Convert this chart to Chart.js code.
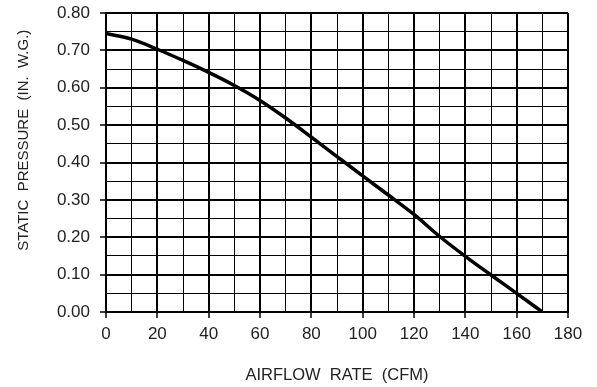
<!DOCTYPE html>
<html>
<head>
<meta charset="utf-8">
<script src="https://cdn.jsdelivr.net/npm/chart.js@4"></script>
<style>
  html, body { margin: 0; padding: 0; background: #fff; }
  #wrap { width: 597px; height: 387px; }
</style>
</head>
<body>
<div id="wrap"><canvas id="fanChart"></canvas></div>
<script>
// Airflow rate (CFM) every 10 CFM
const airflow = [0, 10, 20, 30, 40, 50, 60, 70, 80, 90, 100, 110, 120, 130, 140, 150, 160, 170];
// Static pressure (in. w.g.) at each airflow
const pressure = [0.745, 0.73, 0.703, 0.673, 0.641, 0.606, 0.566, 0.519, 0.468, 0.416, 0.364, 0.313, 0.261, 0.202, 0.149, 0.099, 0.05, 0.0];

const xTitle = 'AIRFLOW  RATE  (CFM)';
// trailing spaces keep the title a bit above the middle, like the original
const yTitle = 'STATIC  PRESSURE  (IN.  W.G.)    ';

const points = airflow.map((x, i) => ({ x: x, y: pressure[i] }));

// major lines every 20 CFM / 0.10 in., minor ones in between
function isMajorX(v) { return Math.round(v) % 20 === 0; }
function isMajorY(v) { return Math.round(v * 100) % 10 === 0; }

const ctx = document.getElementById('fanChart').getContext('2d');
new Chart(ctx, {
  type: 'line',
  data: {
    datasets: [{
      data: points,
      borderColor: '#000',
      borderWidth: 3.5,
      pointRadius: 0,
      fill: false,
      cubicInterpolationMode: 'monotone'
    }]
  },
  options: {
    responsive: true,
    maintainAspectRatio: false,
    animation: false,
    layout: { padding: { top: 13, right: 29, left: 0, bottom: 0 } },
    plugins: {
      legend: { display: false },
      tooltip: { enabled: false }
    },
    scales: {
      x: {
        type: 'linear',
        min: 0,
        max: 180,
        afterFit: scale => { scale.height = 75; },
        border: { display: true, color: '#000', width: 2 },
        grid: {
          color: '#000',
          lineWidth: c => isMajorX(c.tick.value) ? 2 : 1,
          tickColor: c => isMajorX(c.tick.value) ? '#000' : 'rgba(0,0,0,0)',
          tickLength: 6,
          tickWidth: 1.5
        },
        ticks: {
          stepSize: 10,
          autoSkip: false,
          maxRotation: 0,
          padding: 6,
          color: '#222',
          font: { family: 'Liberation Sans', size: 17 },
          callback: v => isMajorX(v) ? String(v) : ''
        },
        title: {
          display: true,
          text: xTitle,
          color: '#222',
          font: { family: 'Liberation Sans', size: 16.5 },
          padding: { top: 0, bottom: 2 }
        }
      },
      y: {
        min: 0,
        max: 0.8,
        afterFit: scale => { scale.width = 106; },
        border: { display: true, color: '#000', width: 2 },
        grid: {
          color: '#000',
          lineWidth: c => isMajorY(c.tick.value) ? 2 : 1,
          tickColor: c => isMajorY(c.tick.value) ? '#000' : 'rgba(0,0,0,0)',
          tickLength: 6,
          tickWidth: 1.5
        },
        ticks: {
          stepSize: 0.05,
          autoSkip: false,
          padding: 10,
          color: '#222',
          // small lineHeight so the top label does not push the plot down
          font: { family: 'Liberation Sans', size: 17, lineHeight: 0.2 },
          callback: v => isMajorY(v) ? v.toFixed(2) : ''
        },
        title: {
          display: true,
          text: yTitle,
          align: 'end',
          color: '#222',
          font: { family: 'Liberation Sans', size: 15 },
          padding: { top: 15, bottom: 0 }
        }
      }
    }
  }
});
</script>
</body>
</html>
